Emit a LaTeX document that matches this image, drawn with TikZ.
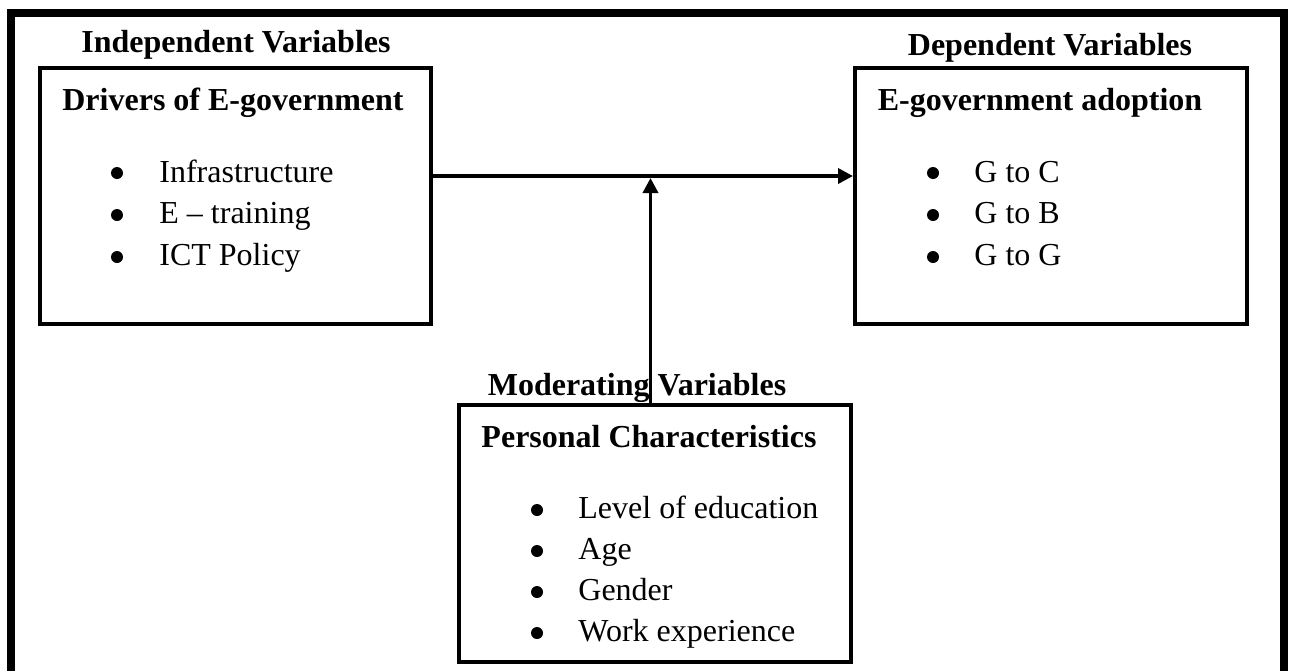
\documentclass[tikz,border=0pt]{standalone}
\usepackage{fontspec}
\setmainfont{Liberation Serif}
\usetikzlibrary{arrows.meta}
\tikzset{
  px/.style={x=0.5pt,y=-0.5pt},
  box/.style={draw,line width=2pt,rectangle,inner sep=0pt},
  head/.style={font=\fontsize{16}{19}\selectfont\bfseries,anchor=base,inner sep=0pt},
  item/.style={font=\fontsize{16}{19}\selectfont,anchor=base west,inner sep=0pt},
  bul/.style={circle,fill=black,inner sep=0pt,minimum size=6pt},
  arr/.style={line width=1.75pt,-{Triangle[length=7.5pt,width=7.5pt]}},
  frame/.style={line width=4pt,line join=miter}
}
\begin{document}
\begin{tikzpicture}[px]
\useasboundingbox (0,0) rectangle (1290,670);
% outer frame (open at the bottom)
\coordinate (fbl) at (10.5,672);
\coordinate (ftl) at (10.5,13);
\coordinate (ftr) at (1284,13);
\coordinate (fbr) at (1284,672);
\draw[frame] (fbl) -- (ftl) -- (ftr) -- (fbr);

% boxes
\node[box,minimum width=195.5pt,minimum height=128pt] (lbox) at (235.75,196) {};
\node[box,minimum width=196pt,minimum height=128pt] (rbox) at (1051,196) {};
\node[box,minimum width=196pt,minimum height=128.5pt] (mbox) at (654.5,533.25) {};

% headings
\node[head] (indep) at (236,52) {Independent Variables};
\node[head] (dep) at (1050,55) {Dependent Variables};
\node[head] (drv) at (233,110) {Drivers of E-government};
\node[head] (ado) at (1040,110) {E-government adoption};
\node[head] (mod) at (637,395) {Moderating Variables};
\node[head] (pers) at (649,447) {Personal Characteristics};

% left items
\node[bul] (lb1) at (117,173) {};
\node[bul] (lb2) at (117,215) {};
\node[bul] (lb3) at (117,257) {};
\node[item] (li1) at (159,182) {Infrastructure};
\node[item] (li2) at (159,223) {E – training};
\node[item] (li3) at (159,265) {ICT Policy};

% right items
\node[bul] (rb1) at (933,173) {};
\node[bul] (rb2) at (933,215) {};
\node[bul] (rb3) at (933,257) {};
\node[item] (ri1) at (974,182) {G to C};
\node[item] (ri2) at (974,223) {G to B};
\node[item] (ri3) at (974,265) {G to G};

% moderating items
\node[bul] (mb1) at (537,510) {};
\node[bul] (mb2) at (537,551) {};
\node[bul] (mb3) at (537,592) {};
\node[bul] (mb4) at (537,633) {};
\node[item] (mi1) at (578,518) {Level of education};
\node[item] (mi2) at (578,559) {Age};
\node[item] (mi3) at (578,600) {Gender};
\node[item] (mi4) at (578,641) {Work experience};

% connectors
\coordinate (junc) at (650.5,176);
\coordinate (juncb) at (650.5,178);
\draw[arr] (lbox.east |- junc) -- (rbox.west |- junc);
\draw[arr] (mbox.north -| juncb) -- (juncb);
\end{tikzpicture}
\end{document}
